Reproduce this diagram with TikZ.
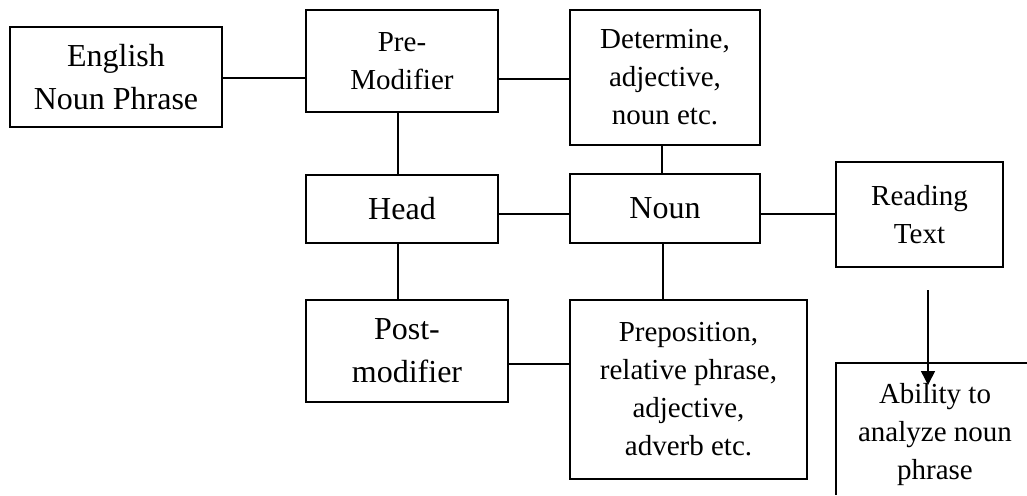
\documentclass[tikz,border=0pt]{standalone}
\usepackage{fontspec}
\setmainfont{Liberation Serif}
\usetikzlibrary{arrows.meta}
\begin{document}
\begin{tikzpicture}[x=1pt,y=-1pt,
  box/.style={draw,line width=1.5pt,inner sep=0pt,align=center,font=\fontsize{29}{38}\selectfont},
  wide/.style={font=\fontsize{32}{43}\selectfont},
  link/.style={line width=1.5pt},
  txt/.style={inner sep=0pt,align=center,font=\fontsize{29}{38}\selectfont}]
\useasboundingbox (0,0) rectangle (1027,495);
% boxes
\node[box,wide,minimum width=212pt,minimum height=100pt] (en) at (116,77) {English\\Noun Phrase};
\node[box,minimum width=192pt,minimum height=102pt] (pre) at (402,61) {Pre-\\Modifier};
\node[box,minimum width=190pt,minimum height=135pt] (det) at (665,77.5) {Determine,\\adjective,\\noun etc.};
\node[box,wide,minimum width=192pt,minimum height=68pt] (head) at (402,209) {Head};
\node[box,wide,minimum width=190pt,minimum height=69pt] (noun) at (665,208.5) {Noun};
\node[box,minimum width=167pt,minimum height=105pt] (read) at (919.5,214.5) {Reading\\Text};
\node[box,wide,minimum width=202pt,minimum height=102pt] (post) at (407,351) {Post-\\modifier};
\node[box,minimum width=237pt,minimum height=179pt] (prep) at (688.5,389.5) {Preposition,\\relative phrase,\\adjective,\\adverb etc.};
% partial box
\draw[link] (1027,363) -| (836,495);
\node[txt,anchor=base] (abil) at (935,479) {Ability to\\analyze noun\\phrase};
% connectors
\draw[link] (en.east |- 0,78) -- (pre.west |- 0,78);
\draw[link] (pre.east |- 0,79) -- (det.west |- 0,79);
\draw[link] (pre.south -| 398,0) -- (head.north -| 398,0);
\draw[link] (head.south -| 398,0) -- (post.north -| 398,0);
\draw[link] (head.east |- 0,214) -- (noun.west |- 0,214);
\draw[link] (noun.east |- 0,214) -- (read.west |- 0,214);
\draw[link] (det.south -| 662,0) -- (noun.north -| 662,0);
\draw[link] (noun.south -| 663,0) -- (prep.north -| 663,0);
\draw[link] (post.east |- 0,364) -- (prep.west |- 0,364);
% arrow
\coordinate (arS) at (928,290);
\coordinate (arE) at (928,385);
\draw[link,-{Triangle[length=14pt,width=14pt]}] (arS) -- (arE);
\end{tikzpicture}
\end{document}
